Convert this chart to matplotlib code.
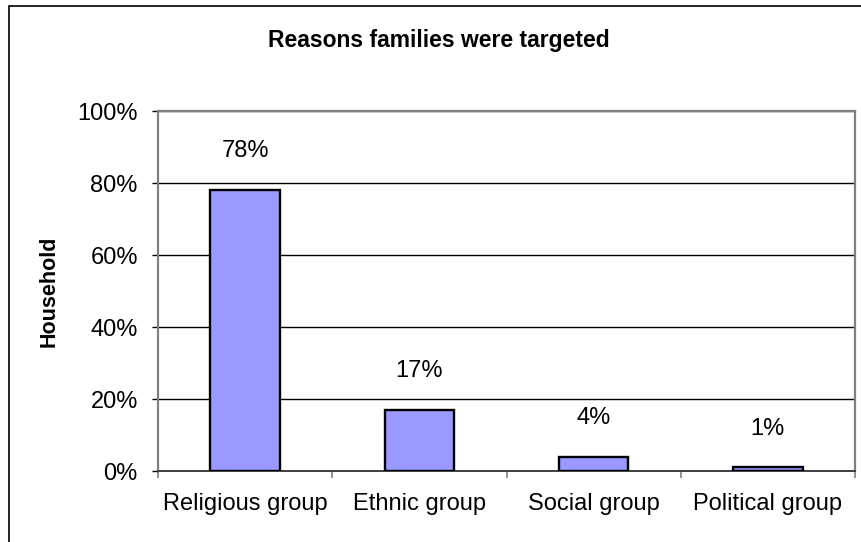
import matplotlib.pyplot as plt
from matplotlib.patches import Rectangle
from matplotlib.ticker import FixedLocator, PercentFormatter

CATEGORIES = ["Religious group", "Ethnic group", "Social group", "Political group"]
SHARES = [0.78, 0.17, 0.04, 0.01]
LABELS = ["78%", "17%", "4%", "1%"]
Y_TICKS = [0.0, 0.2, 0.4, 0.6, 0.8, 1.0]

TITLE = "Reasons families were targeted"
Y_LABEL = "Household"

BAR_COLOR = "#9999FF"
FRAME_GRAY = "#808080"
FONT = "Liberation Sans"


def plot_chart():
    plt.rcParams["font.family"] = [FONT, "DejaVu Sans"]
    fig = plt.figure(figsize=(8.61, 5.42), dpi=100)
    ax = fig.add_axes([158 / 861, 1 - 471 / 542, 697 / 861, 360 / 542])

    x = list(range(len(CATEGORIES)))
    bars = ax.bar(x, SHARES, width=0.4, color=BAR_COLOR, edgecolor="black",
                  linewidth=1.7, zorder=3)

    for bar, label in zip(bars, LABELS):
        ax.annotate(label, (bar.get_x() + bar.get_width() / 2, bar.get_height()),
                    xytext=(0, 28), textcoords="offset points",
                    ha="center", va="center", fontsize=17)

    ax.set_xlim(-0.5, len(CATEGORIES) - 0.5)
    ax.set_ylim(0, 1)
    ax.set_yticks(Y_TICKS)
    ax.yaxis.set_major_formatter(PercentFormatter(1.0, decimals=0))
    ax.grid(axis="y", color="black", linewidth=1.0, zorder=1)

    ax.set_xticks(x)
    ax.set_xticklabels(CATEGORIES)
    ax.xaxis.set_minor_locator(FixedLocator([i - 0.5 for i in range(len(CATEGORIES) + 1)]))
    ax.tick_params(axis="x", which="major", length=0, pad=16, labelsize=17)
    ax.tick_params(axis="x", which="minor", length=5, width=1.2, color=FRAME_GRAY)
    ax.tick_params(axis="y", length=4.5, width=1.0, pad=10, labelsize=17)

    for side in ["top", "right", "left"]:
        ax.spines[side].set_color(FRAME_GRAY)
        ax.spines[side].set_linewidth(1.6)
    ax.spines["bottom"].set_color("#404040")
    ax.spines["bottom"].set_linewidth(1.4)

    ax.set_ylabel(Y_LABEL, fontsize=15.5, fontweight="bold")
    ax.yaxis.set_label_coords(-0.141, 0.5)

    fig.text(438.5 / 861, 1 - 40 / 542, TITLE, ha="center", va="center",
             fontsize=16.5, fontweight="bold")

    # chart border, only its top and left edges fall inside the picture
    fig.patches.append(Rectangle((9 / 861, -0.05), 1.1, 1 - 6 / 542 + 0.05,
                                 transform=fig.transFigure, fill=False,
                                 edgecolor="black", linewidth=1.2))

    fig.savefig("out.png", dpi=100)


def main():
    plot_chart()


if __name__ == "__main__":
    main()
